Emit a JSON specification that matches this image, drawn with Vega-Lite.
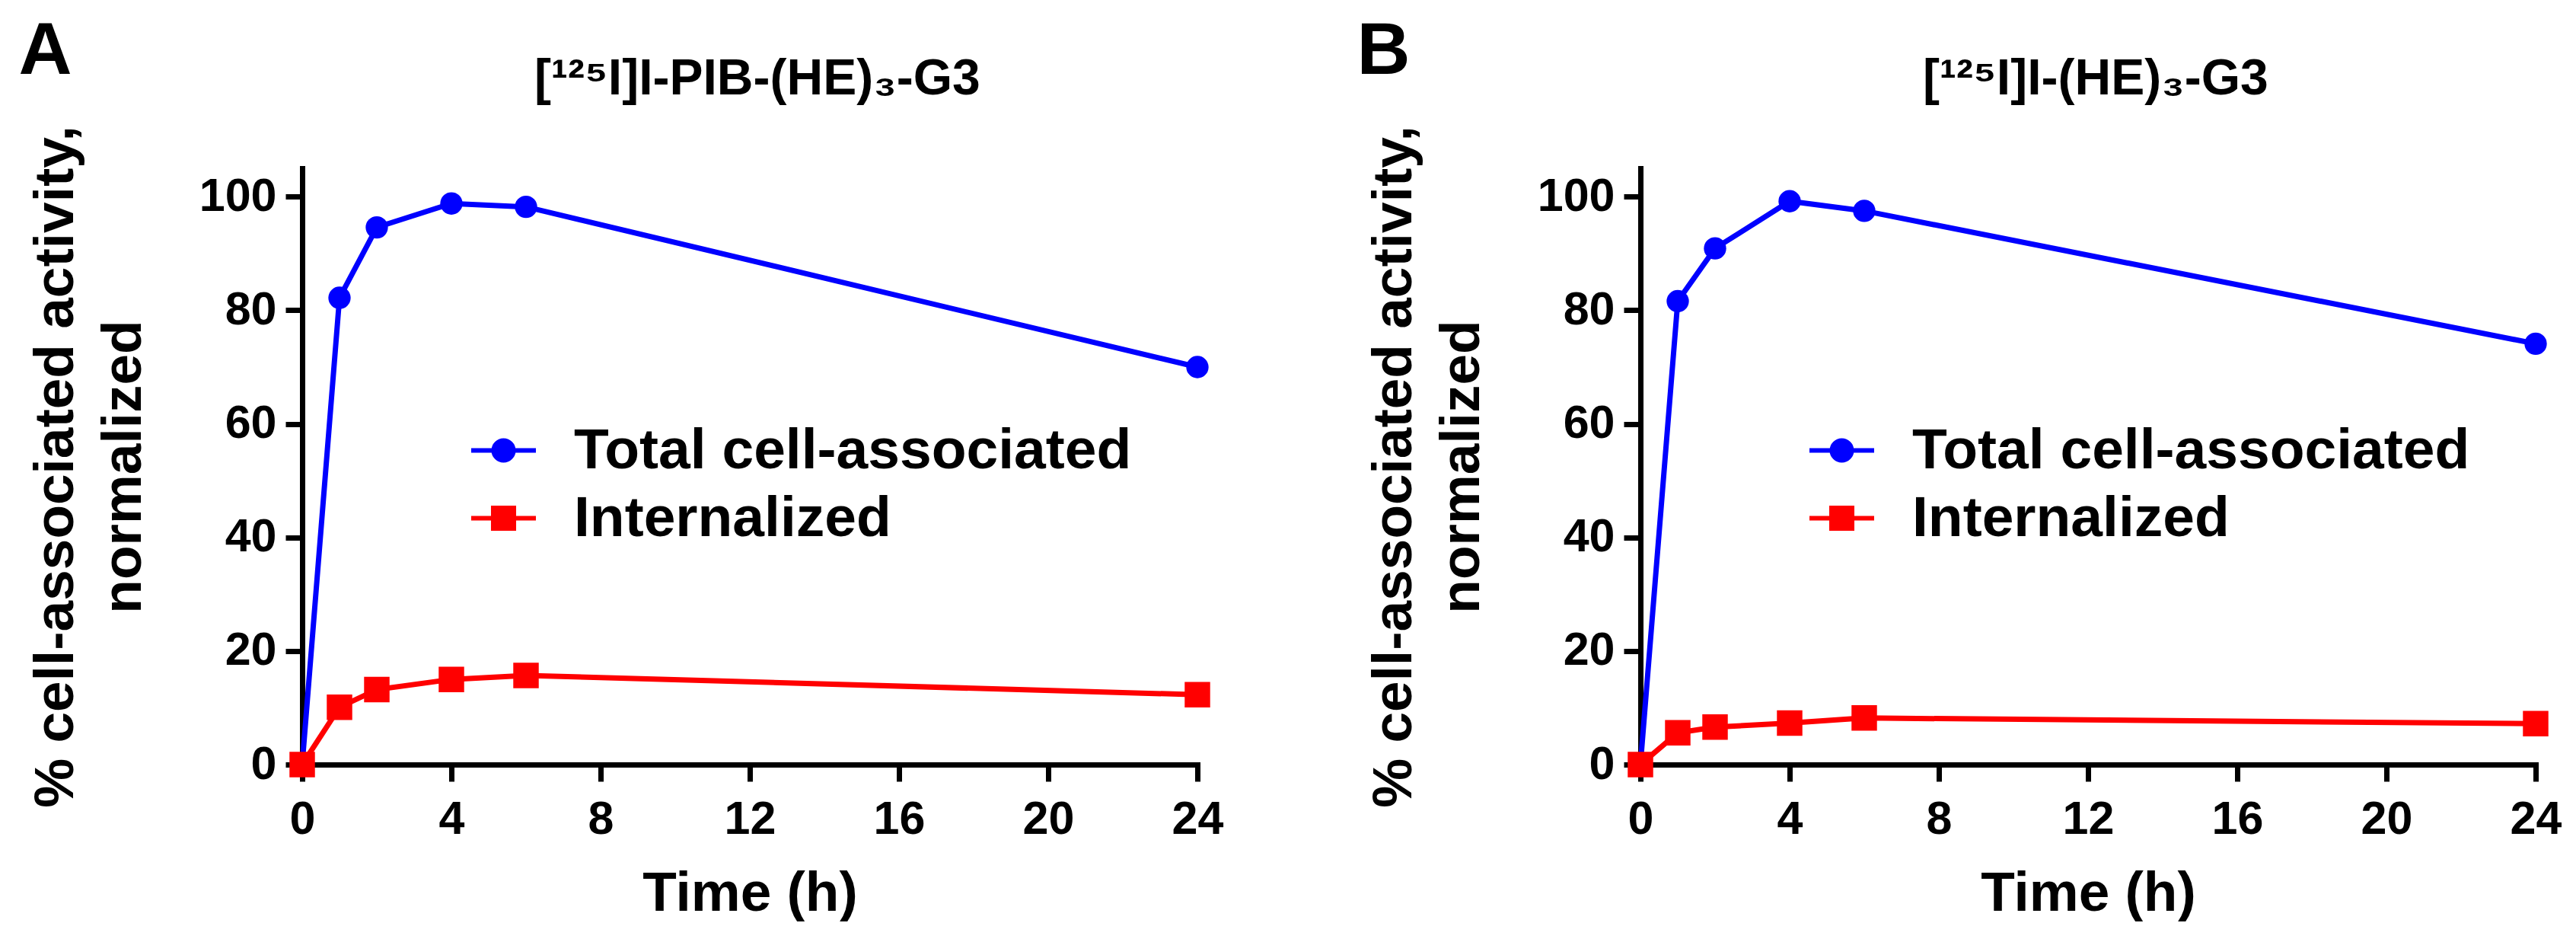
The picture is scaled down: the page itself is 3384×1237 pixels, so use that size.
{
  "$schema": "https://vega.github.io/schema/vega-lite/v6.json",
  "description": "Cell-associated activity over time, two conjugates",
  "padding": {"left": 24, "top": 19, "right": 0, "bottom": 0},
  "background": "white",
  "datasets": {
    "rows": [
      {"panel": "A", "series": "Total cell-associated", "time": 0, "value": 0},
      {"panel": "A", "series": "Total cell-associated", "time": 1, "value": 82.2},
      {"panel": "A", "series": "Total cell-associated", "time": 2, "value": 94.6},
      {"panel": "A", "series": "Total cell-associated", "time": 4, "value": 98.8},
      {"panel": "A", "series": "Total cell-associated", "time": 6, "value": 98.2},
      {"panel": "A", "series": "Total cell-associated", "time": 24, "value": 70.0},
      {"panel": "A", "series": "Internalized", "time": 0, "value": 0},
      {"panel": "A", "series": "Internalized", "time": 1, "value": 10.1},
      {"panel": "A", "series": "Internalized", "time": 2, "value": 13.2},
      {"panel": "A", "series": "Internalized", "time": 4, "value": 15.0},
      {"panel": "A", "series": "Internalized", "time": 6, "value": 15.7},
      {"panel": "A", "series": "Internalized", "time": 24, "value": 12.3},
      {"panel": "B", "series": "Total cell-associated", "time": 0, "value": 0},
      {"panel": "B", "series": "Total cell-associated", "time": 1, "value": 81.6},
      {"panel": "B", "series": "Total cell-associated", "time": 2, "value": 90.9},
      {"panel": "B", "series": "Total cell-associated", "time": 4, "value": 99.2},
      {"panel": "B", "series": "Total cell-associated", "time": 6, "value": 97.5},
      {"panel": "B", "series": "Total cell-associated", "time": 24, "value": 74.1},
      {"panel": "B", "series": "Internalized", "time": 0, "value": 0},
      {"panel": "B", "series": "Internalized", "time": 1, "value": 5.6},
      {"panel": "B", "series": "Internalized", "time": 2, "value": 6.6},
      {"panel": "B", "series": "Internalized", "time": 4, "value": 7.3},
      {"panel": "B", "series": "Internalized", "time": 6, "value": 8.2},
      {"panel": "B", "series": "Internalized", "time": 24, "value": 7.2}
    ]
  },
  "hconcat": [
    {
      "width": 1176,
      "height": 783,
      "layer": [
        {
          "data": {"name": "rows"},
          "transform": [{"filter": "datum.panel == 'A'"}],
          "mark": {"type": "line", "strokeWidth": 7},
          "encoding": {
            "x": {"field": "time", "type": "quantitative", "title": "Time (h)",
                  "scale": {"domain": [0, 24], "nice": false},
                  "axis": {"values": [0, 4, 8, 12, 16, 20, 24]}},
            "y": {"field": "value", "type": "quantitative",
                  "title": ["% cell-associated activity,", "normalized"],
                  "scale": {"domain": [0, 105], "nice": false},
                  "axis": {"values": [0, 20, 40, 60, 80, 100]}},
            "detail": {"field": "series", "type": "nominal"},
            "color": {"condition": {"test": "datum.series === 'Internalized'", "value": "#ff0000"}, "value": "#0000ff"}
          }
        },
        {
          "data": {"name": "rows"},
          "transform": [{"filter": "datum.panel == 'A'"}],
          "mark": {"type": "point", "filled": true, "opacity": 1},
          "encoding": {
            "x": {"field": "time", "type": "quantitative"},
            "y": {"field": "value", "type": "quantitative"},
            "color": {"condition": {"test": "datum.series === 'Internalized'", "value": "#ff0000"}, "value": "#0000ff"},
            "shape": {"condition": {"test": "datum.series === 'Internalized'", "value": "square"}, "value": "circle"},
            "size": {"condition": {"test": "datum.series === 'Internalized'", "value": 1120}, "value": 860}
          }
        },
        {
          "data": {"name": "rows"},
          "transform": [{"filter": "datum.panel == 'A'"}],
          "mark": {"type": "point", "filled": true, "opacity": 0},
          "encoding": {
            "x": {"field": "time", "type": "quantitative"},
            "y": {"field": "value", "type": "quantitative"},
            "fill": {"field": "series", "type": "nominal",
                     "scale": {"domain": ["Total cell-associated", "Internalized"], "range": ["#0000ff", "#ff0000"]},
                     "legend": {"orient": "none", "legendX": 219, "legendY": 325, "title": null, "padding": 0,
                                "labelFontSize": 75, "labelFontWeight": "bold", "labelColor": "#000", "labelLimit": 0,
                                "labelOffset": 47, "rowPadding": 5, "symbolSize": 7225, "symbolStrokeWidth": 6, "symbolOpacity": 1}},
            "stroke": {"field": "series", "type": "nominal",
                       "scale": {"domain": ["Total cell-associated", "Internalized"], "range": ["#0000ff", "#ff0000"]},
                       "legend": {"orient": "none", "legendX": 219, "legendY": 325, "title": null, "padding": 0,
                                  "labelFontSize": 75, "labelFontWeight": "bold", "labelColor": "#000", "labelLimit": 0,
                                  "labelOffset": 47, "rowPadding": 5, "symbolSize": 7225, "symbolStrokeWidth": 6, "symbolOpacity": 1}},
            "shape": {"field": "series", "type": "nominal",
                      "scale": {"domain": ["Total cell-associated", "Internalized"],
                                "range": ["M-1,0H1M-0.306,0A0.306,0.306,0,1,0,0.306,0A0.306,0.306,0,1,0,-0.306,0Z", "M-1,0H1M-0.318,-0.318H0.318V0.318H-0.318Z"]},
                      "legend": {"orient": "none", "legendX": 219, "legendY": 325, "title": null, "padding": 0,
                                 "labelFontSize": 75, "labelFontWeight": "bold", "labelColor": "#000", "labelLimit": 0,
                                 "labelOffset": 47, "rowPadding": 5, "symbolSize": 7225, "symbolStrokeWidth": 6, "symbolOpacity": 1}}
          }
        },
        {
          "data": {"values": [{"letter": "A", "name": "[¹²⁵I]I-PIB-(HE)₃-G3"}]},
          "mark": {"type": "text", "fontSize": 97, "fontWeight": "bold", "align": "left", "baseline": "alphabetic", "color": "#000"},
          "encoding": {
            "x": {"datum": -7.6, "type": "quantitative"},
            "y": {"datum": 121.6, "type": "quantitative"},
            "text": {"field": "letter"}
          }
        },
        {
          "data": {"values": [{"letter": "A", "name": "[¹²⁵I]I-PIB-(HE)₃-G3"}]},
          "mark": {"type": "text", "fontSize": 66, "fontWeight": "bold", "align": "center", "baseline": "alphabetic", "color": "#000"},
          "encoding": {
            "x": {"datum": 12.2, "type": "quantitative"},
            "y": {"datum": 118, "type": "quantitative"},
            "text": {"field": "name"}
          }
        }
      ]
    },
    {
      "width": 1176,
      "height": 783,
      "layer": [
        {
          "data": {"name": "rows"},
          "transform": [{"filter": "datum.panel == 'B'"}],
          "mark": {"type": "line", "strokeWidth": 7},
          "encoding": {
            "x": {"field": "time", "type": "quantitative", "title": "Time (h)",
                  "scale": {"domain": [0, 24], "nice": false},
                  "axis": {"values": [0, 4, 8, 12, 16, 20, 24]}},
            "y": {"field": "value", "type": "quantitative",
                  "title": ["% cell-associated activity,", "normalized"],
                  "scale": {"domain": [0, 105], "nice": false},
                  "axis": {"values": [0, 20, 40, 60, 80, 100]}},
            "detail": {"field": "series", "type": "nominal"},
            "color": {"condition": {"test": "datum.series === 'Internalized'", "value": "#ff0000"}, "value": "#0000ff"}
          }
        },
        {
          "data": {"name": "rows"},
          "transform": [{"filter": "datum.panel == 'B'"}],
          "mark": {"type": "point", "filled": true, "opacity": 1},
          "encoding": {
            "x": {"field": "time", "type": "quantitative"},
            "y": {"field": "value", "type": "quantitative"},
            "color": {"condition": {"test": "datum.series === 'Internalized'", "value": "#ff0000"}, "value": "#0000ff"},
            "shape": {"condition": {"test": "datum.series === 'Internalized'", "value": "square"}, "value": "circle"},
            "size": {"condition": {"test": "datum.series === 'Internalized'", "value": 1120}, "value": 860}
          }
        },
        {
          "data": {"name": "rows"},
          "transform": [{"filter": "datum.panel == 'B'"}],
          "mark": {"type": "point", "filled": true, "opacity": 0},
          "encoding": {
            "x": {"field": "time", "type": "quantitative"},
            "y": {"field": "value", "type": "quantitative"},
            "fill": {"field": "series", "type": "nominal",
                     "scale": {"domain": ["Total cell-associated", "Internalized"], "range": ["#0000ff", "#ff0000"]},
                     "legend": {"orient": "none", "legendX": 219, "legendY": 325, "title": null, "padding": 0,
                                "labelFontSize": 75, "labelFontWeight": "bold", "labelColor": "#000", "labelLimit": 0,
                                "labelOffset": 47, "rowPadding": 5, "symbolSize": 7225, "symbolStrokeWidth": 6, "symbolOpacity": 1}},
            "stroke": {"field": "series", "type": "nominal",
                       "scale": {"domain": ["Total cell-associated", "Internalized"], "range": ["#0000ff", "#ff0000"]},
                       "legend": {"orient": "none", "legendX": 219, "legendY": 325, "title": null, "padding": 0,
                                  "labelFontSize": 75, "labelFontWeight": "bold", "labelColor": "#000", "labelLimit": 0,
                                  "labelOffset": 47, "rowPadding": 5, "symbolSize": 7225, "symbolStrokeWidth": 6, "symbolOpacity": 1}},
            "shape": {"field": "series", "type": "nominal",
                      "scale": {"domain": ["Total cell-associated", "Internalized"],
                                "range": ["M-1,0H1M-0.306,0A0.306,0.306,0,1,0,0.306,0A0.306,0.306,0,1,0,-0.306,0Z", "M-1,0H1M-0.318,-0.318H0.318V0.318H-0.318Z"]},
                      "legend": {"orient": "none", "legendX": 219, "legendY": 325, "title": null, "padding": 0,
                                 "labelFontSize": 75, "labelFontWeight": "bold", "labelColor": "#000", "labelLimit": 0,
                                 "labelOffset": 47, "rowPadding": 5, "symbolSize": 7225, "symbolStrokeWidth": 6, "symbolOpacity": 1}}
          }
        },
        {
          "data": {"values": [{"letter": "B", "name": "[¹²⁵I]I-(HE)₃-G3"}]},
          "mark": {"type": "text", "fontSize": 97, "fontWeight": "bold", "align": "left", "baseline": "alphabetic", "color": "#000"},
          "encoding": {
            "x": {"datum": -7.6, "type": "quantitative"},
            "y": {"datum": 121.6, "type": "quantitative"},
            "text": {"field": "letter"}
          }
        },
        {
          "data": {"values": [{"letter": "B", "name": "[¹²⁵I]I-(HE)₃-G3"}]},
          "mark": {"type": "text", "fontSize": 66, "fontWeight": "bold", "align": "center", "baseline": "alphabetic", "color": "#000"},
          "encoding": {
            "x": {"datum": 12.2, "type": "quantitative"},
            "y": {"datum": 118, "type": "quantitative"},
            "text": {"field": "name"}
          }
        }
      ]
    }
  ],
  "spacing": 582,
  "bounds": "flush",
  "resolve": {
    "scale": {"fill": "independent", "stroke": "independent", "shape": "independent"},
    "legend": {"fill": "independent", "stroke": "independent", "shape": "independent"}
  },
  "config": {
    "font": "Liberation Sans",
    "view": {"stroke": null},
    "text": {"font": "Liberation Sans"},
    "axis": {
      "grid": false,
      "domainColor": "#000", "domainWidth": 7, "domainCap": "square",
      "tickColor": "#000", "tickWidth": 7, "tickSize": 22,
      "labelFont": "Liberation Sans", "labelFontSize": 61, "labelFontWeight": "bold", "labelColor": "#000",
      "labelFlush": false, "labelOverlap": false, "labelBound": false,
      "titleFont": "Liberation Sans", "titleFontSize": 73, "titleFontWeight": "bold", "titleColor": "#000"
    },
    "axisX": {"labelPadding": 20, "titlePadding": 31},
    "axisY": {"labelPadding": 12, "titlePadding": 62, "titleLineHeight": 89},
    "legend": {"labelFont": "Liberation Sans"}
  }
}
